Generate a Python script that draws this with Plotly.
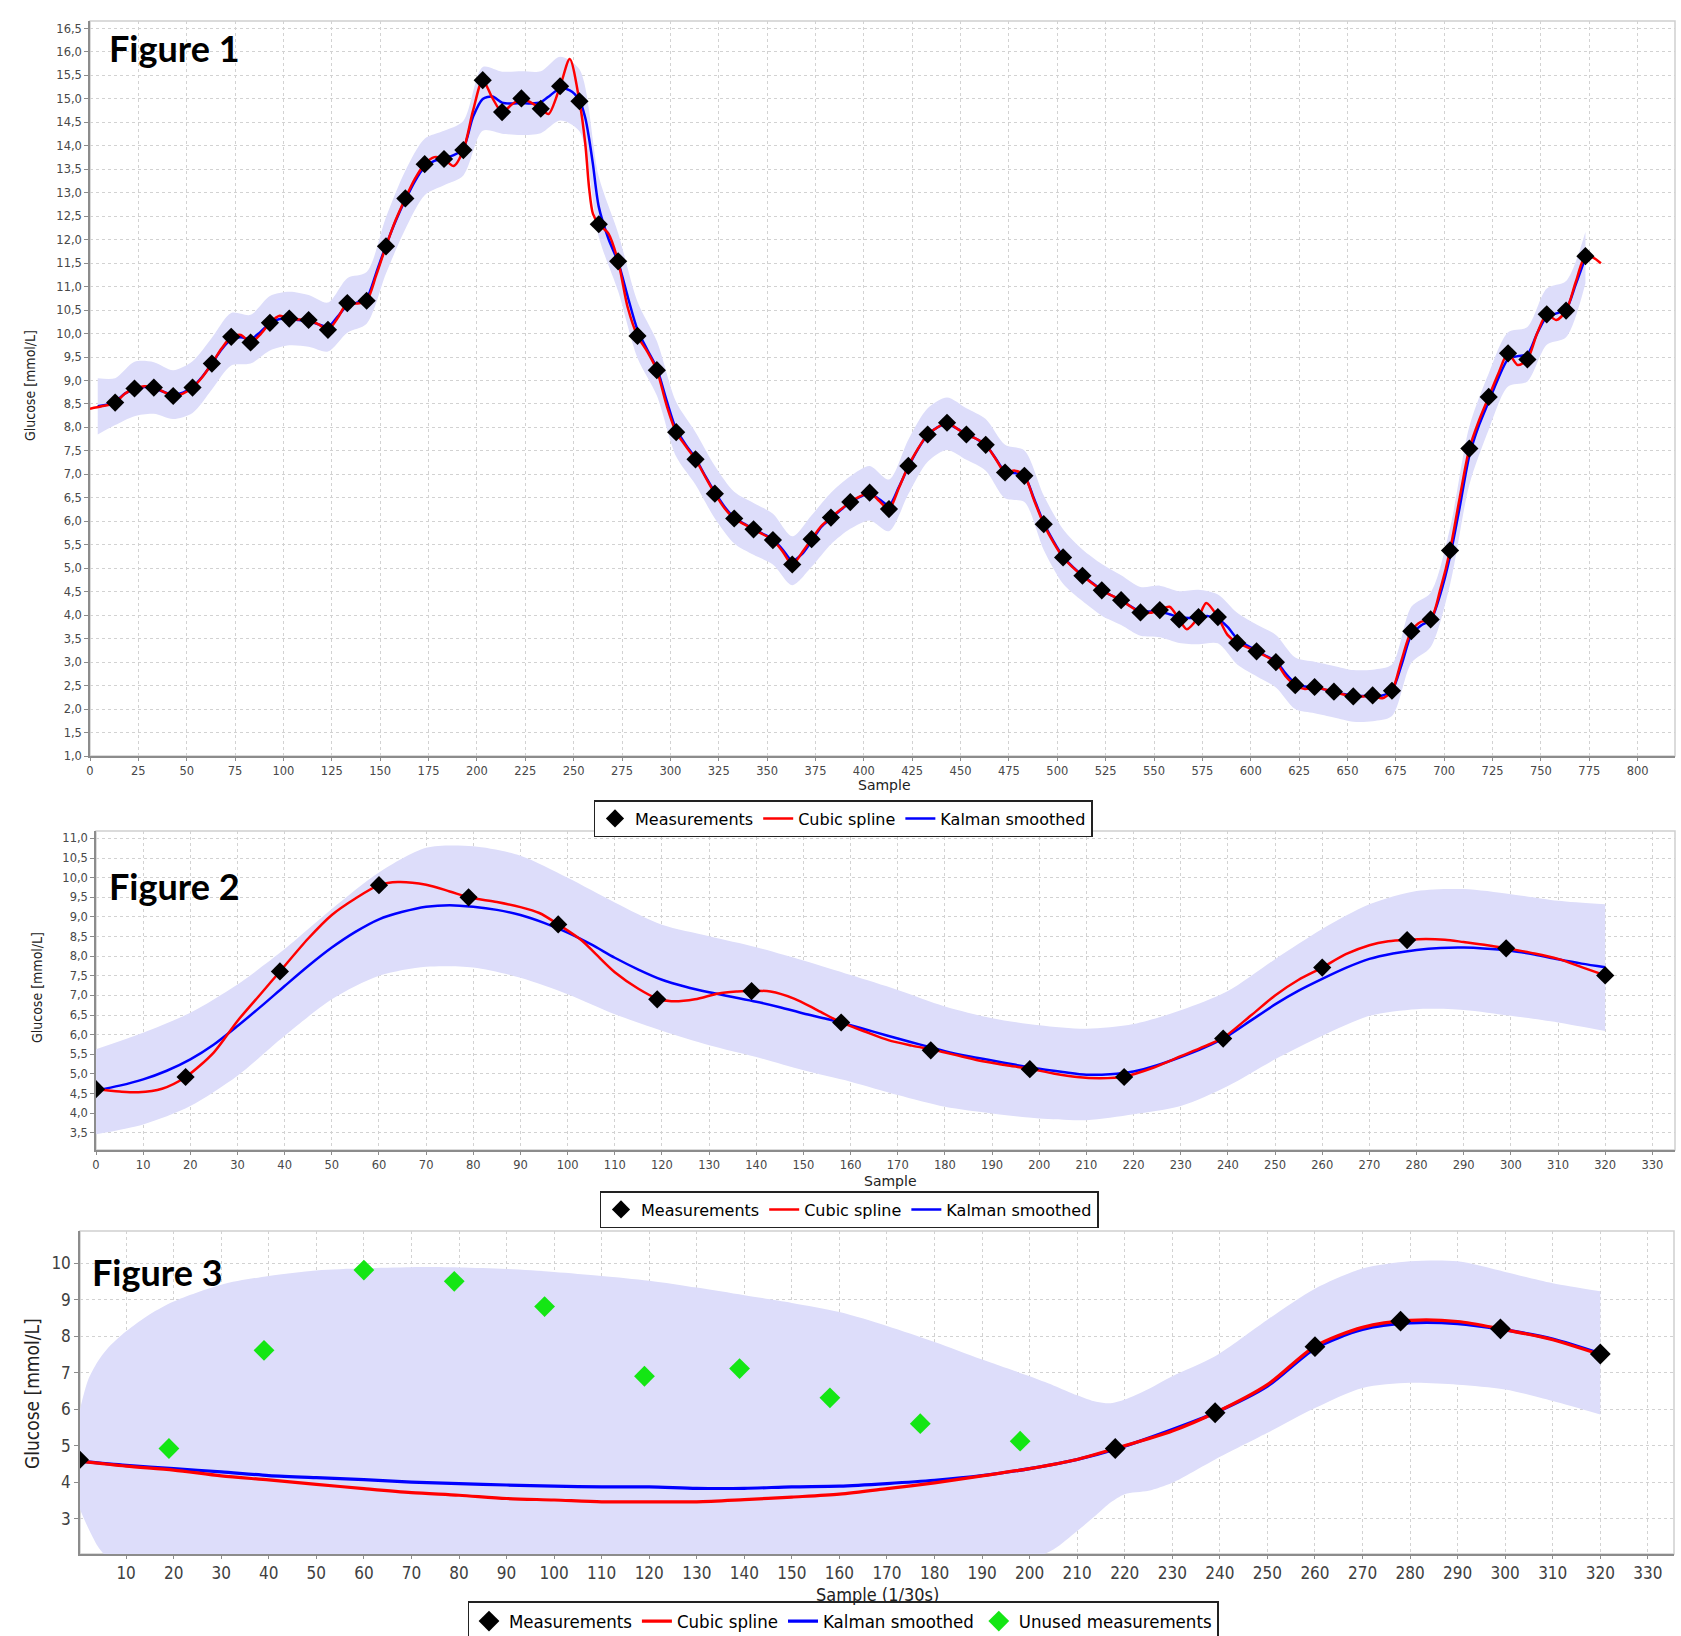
import plotly.graph_objects as go

W, H = 1681, 1636

# ---------------- Figure 1 data ----------------
f1_meas_x = [13, 23, 33, 43, 53, 63, 73, 83, 93, 103, 113, 123, 133, 143, 153, 163, 173, 183, 193, 203,
             213, 223, 233, 243, 253, 263, 273, 283, 293, 303, 313, 323, 333, 343, 353, 363, 373, 383, 393, 403,
             413, 423, 433, 443, 453, 463, 473, 483, 493, 503, 513, 523, 533, 543, 553, 563, 573, 583, 593, 603,
             613, 623, 633, 643, 653, 663, 673, 683, 693, 703, 713, 723, 733, 743, 753, 763, 773]
f1_meas_y = [8.53, 8.83, 8.85, 8.67, 8.85, 9.36, 9.93, 9.81, 10.23, 10.32,
             10.29, 10.08, 10.65, 10.70, 11.86, 12.88, 13.61, 13.72, 13.91, 15.40,
             14.72, 15.01, 14.79, 15.27, 14.95, 12.33, 11.54, 9.95, 9.22, 7.90,
             7.32, 6.59, 6.06, 5.83, 5.60, 5.08, 5.62, 6.08, 6.41, 6.61,
             6.26, 7.18, 7.85, 8.10, 7.85, 7.63, 7.04, 6.97, 5.94, 5.23,
             4.84, 4.53, 4.32, 4.06, 4.11, 3.91, 3.96, 3.96, 3.41, 3.23,
             3.00, 2.51, 2.47, 2.37, 2.27, 2.29, 2.39, 3.66, 3.91, 5.38,
             7.55, 8.65, 9.58, 9.45, 10.41, 10.49, 11.65]

f1_spline_x = [0, 6, 13, 18, 23, 28, 33, 38, 43, 48, 53, 58, 63, 68, 73, 78, 83, 88, 93, 98,
               103, 108, 113, 118, 123, 128, 133, 138, 143, 148, 153, 158, 163, 168, 173, 178, 183, 188, 193, 198,
               203, 208, 213, 218, 223, 228, 233, 237, 243, 248, 253, 256, 258, 260, 263, 268, 273, 278, 283, 288,
               293, 298, 303, 308, 313, 318, 323, 328, 333, 338, 343, 348, 353, 358, 363, 368, 373, 378, 383, 388,
               393, 398, 403, 408, 413, 418, 423, 428, 433, 438, 443, 448, 453, 458, 463, 468, 473, 478, 483, 488,
               493, 498, 503, 508, 513, 518, 523, 528, 533, 538, 543, 548, 553, 558, 563, 567, 573, 577, 583, 588,
               593, 598, 603, 608, 613, 618, 623, 628, 633, 638, 643, 648, 653, 658, 663, 668, 673, 678, 683, 688,
               693, 698, 703, 708, 713, 718, 723, 728, 733, 738, 743, 748, 753, 758, 763, 768, 773, 777, 781]
f1_spline_y = [8.40, 8.45, 8.53, 8.72, 8.83, 8.88, 8.85, 8.76, 8.67, 8.72, 8.85, 9.07, 9.36, 9.68, 9.93, 9.97, 9.81, 9.98, 10.23, 10.38,
               10.32, 10.30, 10.29, 10.20, 10.08, 10.33, 10.65, 10.64, 10.70, 11.25, 11.86, 12.42, 12.88, 13.30, 13.61, 13.76, 13.72, 13.57, 13.91, 14.75,
               15.40, 15.02, 14.72, 14.88, 15.01, 14.92, 14.79, 14.68, 15.27, 15.85, 14.95, 14.05, 13.10, 12.55, 12.33, 12.13, 11.54, 10.55, 9.95, 9.62,
               9.22, 8.48, 7.90, 7.60, 7.32, 6.95, 6.59, 6.28, 6.06, 5.94, 5.83, 5.72, 5.60, 5.36, 5.08, 5.33, 5.62, 5.90, 6.08, 6.25,
               6.41, 6.53, 6.61, 6.43, 6.26, 6.70, 7.18, 7.55, 7.85, 8.00, 8.10, 7.98, 7.85, 7.76, 7.63, 7.34, 7.04, 7.08, 6.97, 6.45,
               5.94, 5.55, 5.23, 5.02, 4.84, 4.68, 4.53, 4.42, 4.32, 4.18, 4.06, 4.05, 4.11, 4.18, 3.91, 3.70, 3.96, 4.26, 3.96, 3.58,
               3.41, 3.32, 3.23, 3.12, 3.00, 2.70, 2.51, 2.43, 2.47, 2.42, 2.37, 2.31, 2.27, 2.27, 2.29, 2.23, 2.39, 3.05, 3.66, 3.86,
               3.91, 4.55, 5.38, 6.50, 7.55, 8.15, 8.65, 9.15, 9.58, 9.33, 9.45, 10.00, 10.41, 10.29, 10.49, 11.10, 11.65, 11.62, 11.50]

f1_kalman_x = [4, 8, 13, 18, 23, 28, 33, 38, 43, 48, 53, 58, 63, 68, 73, 78, 83, 88, 93, 98,
               103, 108, 113, 118, 123, 128, 133, 138, 143, 148, 153, 158, 163, 168, 173, 178, 183, 188, 193, 198,
               203, 208, 213, 218, 223, 228, 233, 238, 243, 248, 253, 256, 258, 260, 263, 268, 273, 278, 283, 288,
               293, 298, 303, 308, 313, 318, 323, 328, 333, 338, 343, 348, 353, 358, 363, 368, 373, 378, 383, 388,
               393, 398, 403, 408, 413, 418, 423, 428, 433, 438, 443, 448, 453, 458, 463, 468, 473, 478, 483, 488,
               493, 498, 503, 508, 513, 518, 523, 528, 533, 538, 543, 548, 553, 558, 563, 568, 573, 578, 583, 588,
               593, 598, 603, 608, 613, 618, 623, 628, 633, 638, 643, 648, 653, 658, 663, 668, 673, 678, 683, 688,
               693, 698, 703, 708, 713, 718, 723, 728, 733, 738, 743, 748, 753, 758, 763, 768, 773]
f1_kalman_y = [8.45, 8.48, 8.55, 8.72, 8.82, 8.86, 8.84, 8.76, 8.70, 8.74, 8.86, 9.08, 9.36, 9.66, 9.88, 9.92, 9.88, 10.03, 10.22, 10.31,
               10.32, 10.29, 10.27, 10.20, 10.14, 10.36, 10.60, 10.66, 10.76, 11.30, 11.88, 12.40, 12.85, 13.25, 13.55, 13.68, 13.74, 13.80, 13.95, 14.62,
               15.00, 15.05, 14.92, 14.90, 14.91, 14.90, 14.93, 15.08, 15.22, 15.18, 14.97, 14.60, 14.15, 13.60, 12.70, 12.02, 11.52, 10.78, 10.08, 9.66,
               9.26, 8.58, 7.96, 7.63, 7.34, 6.97, 6.62, 6.31, 6.08, 5.95, 5.84, 5.73, 5.62, 5.40, 5.16, 5.30, 5.58, 5.88, 6.06, 6.24,
               6.40, 6.52, 6.60, 6.47, 6.34, 6.72, 7.16, 7.54, 7.84, 8.00, 8.08, 7.98, 7.86, 7.76, 7.63, 7.35, 7.06, 7.03, 6.96, 6.48,
               5.97, 5.58, 5.25, 5.03, 4.85, 4.69, 4.54, 4.42, 4.32, 4.19, 4.08, 4.08, 4.08, 4.02, 3.96, 3.94, 3.96, 3.98, 3.92, 3.75,
               3.50, 3.36, 3.25, 3.13, 3.02, 2.76, 2.55, 2.48, 2.46, 2.42, 2.37, 2.32, 2.28, 2.28, 2.29, 2.29, 2.40, 2.95, 3.58, 3.78,
               3.90, 4.45, 5.25, 6.30, 7.40, 8.05, 8.55, 9.05, 9.45, 9.52, 9.56, 10.00, 10.36, 10.43, 10.52, 11.05, 11.62]

# half width of the confidence band, at x = 4 and at every measurement sample
f1_band_x = [4] + f1_meas_x
f1_band_half = [0.60,
                0.50, 0.58, 0.55, 0.52, 0.55, 0.55, 0.56, 0.52, 0.58, 0.57,
                0.55, 0.52, 0.58, 0.55, 0.60, 0.62, 0.60, 0.58, 0.58, 0.68,
                0.66, 0.68, 0.66, 0.68, 0.66, 0.64, 0.62, 0.60, 0.58, 0.58,
                0.56, 0.56, 0.55, 0.55, 0.54, 0.52, 0.55, 0.55, 0.56, 0.58,
                0.55, 0.58, 0.57, 0.56, 0.55, 0.55, 0.57, 0.55, 0.58, 0.58,
                0.55, 0.55, 0.53, 0.52, 0.55, 0.55, 0.58, 0.52, 0.55, 0.55,
                0.56, 0.55, 0.55, 0.55, 0.55, 0.55, 0.55, 0.60, 0.58, 0.60,
                0.62, 0.60, 0.58, 0.58, 0.60, 0.60, 0.55]

# ---------------- Figure 2 data ----------------
f2_meas_x = [0, 19, 39, 60, 79, 98, 119, 139, 158, 177, 198, 218, 239, 260, 278, 299, 320]
f2_meas_y = [4.61, 4.92, 7.61, 9.81, 9.50, 8.81, 6.90, 7.11, 6.31, 5.60, 5.12, 4.92, 5.90, 7.71, 8.41, 8.20, 7.51]

f2_spline_x = [0, 5, 9, 14, 19, 25, 30, 35, 39, 45, 50, 55, 60, 64, 70, 75, 79, 85, 90, 94, 98, 103, 106, 110, 115,
               119, 122, 127, 132, 136, 139, 143, 148, 153, 158, 163, 168, 173, 178, 183, 188, 193, 198, 203, 208,
               213, 218, 224, 230, 235, 239, 245, 250, 255, 260, 265, 270, 274, 278, 282, 286, 290, 295, 299, 305,
               310, 315, 320]
f2_spline_y = [4.61, 4.55, 4.53, 4.62, 4.92, 5.55, 6.35, 7.05, 7.61, 8.45, 9.05, 9.47, 9.81, 9.89, 9.82, 9.65, 9.50, 9.38, 9.25, 9.10, 8.81, 8.40, 8.05, 7.59, 7.17,
               6.92, 6.85, 6.90, 7.05, 7.10, 7.12, 7.10, 6.92, 6.62, 6.31, 6.08, 5.86, 5.72, 5.60, 5.46, 5.32, 5.22, 5.13, 5.01, 4.92,
               4.89, 4.93, 5.15, 5.45, 5.70, 5.92, 6.50, 7.00, 7.40, 7.71, 8.05, 8.28, 8.38, 8.42, 8.44, 8.42, 8.36, 8.28, 8.20, 8.07,
               7.93, 7.72, 7.51]

f2_kalman_x = [0, 5, 10, 15, 20, 25, 30, 35, 40, 45, 50, 55, 60, 65, 70, 75, 80, 85, 90, 95, 100, 105, 110, 115, 120,
               125, 130, 135, 140, 145, 150, 155, 160, 165, 170, 175, 180, 185, 190, 195, 200, 205, 210, 215, 220,
               225, 230, 235, 240, 245, 250, 255, 260, 265, 270, 275, 280, 285, 290, 295, 300, 305, 310, 315, 320]
f2_kalman_y = [4.58, 4.70, 4.86, 5.08, 5.37, 5.75, 6.22, 6.72, 7.24, 7.75, 8.22, 8.62, 8.94, 9.13, 9.26, 9.30, 9.26, 9.18, 9.05, 8.85, 8.60, 8.30, 7.96, 7.66, 7.40,
               7.22, 7.08, 6.96, 6.84, 6.70, 6.54, 6.40, 6.24, 6.07, 5.90, 5.74, 5.58, 5.45, 5.34, 5.23, 5.13, 5.05, 4.98, 4.99, 5.06,
               5.22, 5.43, 5.67, 5.97, 6.37, 6.77, 7.12, 7.42, 7.70, 7.93, 8.07, 8.16, 8.21, 8.22, 8.19, 8.14, 8.04, 7.92, 7.81, 7.72]

f2_band_x = [0, 10, 20, 30, 40, 50, 60, 70, 80, 90, 100, 110, 120, 130, 140, 150, 160, 170, 180, 190,
             200, 210, 220, 230, 240, 250, 260, 270, 280, 290, 300, 310, 320]
f2_band_hi = [5.63, 6.05, 6.56, 7.28, 8.18, 9.20, 10.13, 10.76, 10.80, 10.56, 10.00, 9.37, 8.80, 8.51, 8.23, 7.89, 7.52, 7.14, 6.72, 6.42,
              6.24, 6.15, 6.27, 6.62, 7.11, 7.92, 8.69, 9.32, 9.66, 9.71, 9.58, 9.41, 9.32]
f2_band_lo = [3.46, 3.71, 4.18, 4.95, 5.97, 6.90, 7.50, 7.73, 7.71, 7.45, 7.03, 6.52, 6.10, 5.73, 5.43, 5.09, 4.80, 4.46, 4.16, 3.99,
              3.86, 3.82, 3.97, 4.18, 4.69, 5.37, 5.97, 6.48, 6.65, 6.63, 6.48, 6.31, 6.09]

# ---------------- Figure 3 data ----------------
f3_meas_x = [0, 218, 239, 260, 278, 299, 320]
f3_meas_y = [4.61, 4.92, 5.90, 7.71, 8.41, 8.20, 7.51]
f3_unused_x = [19, 39, 60, 79, 98, 119, 139, 158, 177, 198]
f3_unused_y = [4.92, 7.61, 9.81, 9.50, 8.81, 6.90, 7.11, 6.31, 5.60, 5.12]

f3_line_x = [0, 10, 20, 30, 40, 50, 60, 70, 80, 90, 100, 110, 120, 130, 140, 150, 160, 170, 180, 190, 200, 210,
             218, 230, 239, 250, 260, 270, 280, 290, 299, 310, 320]
f3_spline_y = [4.58, 4.44, 4.33, 4.17, 4.06, 3.94, 3.82, 3.71, 3.64, 3.55, 3.51, 3.46, 3.46, 3.46, 3.52, 3.59, 3.67, 3.82, 3.98, 4.17, 4.37, 4.62,
               4.92, 5.40, 5.90, 6.67, 7.72, 8.24, 8.43, 8.40, 8.20, 7.90, 7.49]
f3_kalman_y = [4.58, 4.46, 4.37, 4.28, 4.18, 4.12, 4.07, 4.00, 3.96, 3.92, 3.89, 3.87, 3.87, 3.83, 3.83, 3.87, 3.89, 3.96, 4.05, 4.18, 4.37, 4.62,
               4.90, 5.44, 5.90, 6.63, 7.66, 8.18, 8.36, 8.34, 8.19, 7.92, 7.52]

f3_band_x = [0.3, 2, 4, 6, 10, 15, 20, 30, 40, 50, 60, 70, 80, 90, 100, 110, 120, 130, 140, 150, 160, 170, 180, 190,
             200, 205, 210, 214, 217, 220, 225, 230, 239, 250, 260, 270, 280, 290, 300, 310, 320]
f3_band_hi = [6.00, 6.80, 7.30, 7.65, 8.13, 8.60, 8.95, 9.41, 9.65, 9.80, 9.86, 9.89, 9.88, 9.84, 9.76, 9.65, 9.52, 9.33, 9.12, 8.91, 8.66, 8.28, 7.84, 7.36,
              6.90, 6.65, 6.38, 6.20, 6.16, 6.26, 6.55, 6.90, 7.45, 8.45, 9.30, 9.85, 10.05, 10.05, 9.76, 9.45, 9.23]
f3_band_lo = [3.25, 2.75, 2.25, 1.90, 0.80, 0.20, -0.20, -0.85, -1.30, -1.55, -1.72, -1.88, -1.95, -2.00, -1.98, -1.90, -1.78, -1.65, -1.45, -1.17, -0.85, -0.36, 0.26, 1.00,
              1.84, 2.15, 2.66, 3.10, 3.44, 3.67, 3.76, 3.98, 4.62, 5.35, 6.03, 6.58, 6.72, 6.67, 6.54, 6.22, 5.85]

# ---------------- styling ----------------
BAND = 'rgb(221,221,250)'
RED = '#ff0000'
BLUE = '#0000ff'
GREEN = '#14e614'
GRID = '#d2d2d2'
AXIS = '#8c8c8c'
WIDE = 'DejaVu Sans, Verdana, sans-serif'
NARROW = 'Liberation Sans Narrow, DejaVu Sans Condensed, Arial Narrow, sans-serif'


def fx(px):
    return px / W


def fy(py):
    return 1 - py / H


# plot areas in pixels: (left, right, top, bottom)
P1 = (90, 1675, 21, 756)
P2 = (96, 1675, 831, 1150)
P3 = (80, 1674, 1231, 1554)

fig = go.Figure()


def add_band(x, lo, hi, xa, ya):
    fig.add_trace(go.Scatter(x=x, y=lo, mode='lines', line=dict(width=0, shape='spline', smoothing=0.8),
                             hoverinfo='skip', showlegend=False, xaxis=xa, yaxis=ya))
    fig.add_trace(go.Scatter(x=x, y=hi, mode='lines', line=dict(width=0, shape='spline', smoothing=0.8),
                             fill='tonexty', fillcolor=BAND, hoverinfo='skip', showlegend=False,
                             xaxis=xa, yaxis=ya))


def add_lines(sx, sy, kx, ky, xa, ya, leg, lw):
    fig.add_trace(go.Scatter(x=kx, y=ky, mode='lines', name='Kalman smoothed',
                             line=dict(color=BLUE, width=lw, shape='spline', smoothing=0.8),
                             xaxis=xa, yaxis=ya, legend=leg, legendrank=3))
    fig.add_trace(go.Scatter(x=sx, y=sy, mode='lines', name='Cubic spline',
                             line=dict(color=RED, width=lw, shape='spline', smoothing=0.8),
                             xaxis=xa, yaxis=ya, legend=leg, legendrank=2))


# ---- Figure 1 ----
kmap = dict(zip(f1_kalman_x, f1_kalman_y))
f1_band_lo = [kmap[x] - h for x, h in zip(f1_band_x, f1_band_half)]
f1_band_hi = [kmap[x] + h for x, h in zip(f1_band_x, f1_band_half)]
add_band(f1_band_x, f1_band_lo, f1_band_hi, 'x', 'y')
add_lines(f1_spline_x, f1_spline_y, f1_kalman_x, f1_kalman_y, 'x', 'y', 'legend', 2.5)
fig.add_trace(go.Scatter(x=f1_meas_x, y=f1_meas_y, mode='markers', name='Measurements',
                         marker=dict(symbol='diamond', size=14, color='black'),
                         xaxis='x', yaxis='y', legend='legend', legendrank=1))

# ---- Figure 2 ----
add_band(f2_band_x, f2_band_lo, f2_band_hi, 'x2', 'y2')
add_lines(f2_spline_x, f2_spline_y, f2_kalman_x, f2_kalman_y, 'x2', 'y2', 'legend2', 2.5)
fig.add_trace(go.Scatter(x=f2_meas_x, y=f2_meas_y, mode='markers', name='Measurements',
                         marker=dict(symbol='diamond', size=14, color='black'),
                         xaxis='x2', yaxis='y2', legend='legend2', legendrank=1))

# ---- Figure 3 ----
add_band(f3_band_x, f3_band_lo, f3_band_hi, 'x3', 'y3')
add_lines(f3_line_x, f3_spline_y, f3_line_x, f3_kalman_y, 'x3', 'y3', 'legend3', 3.2)
fig.add_trace(go.Scatter(x=f3_meas_x, y=f3_meas_y, mode='markers', name='Measurements',
                         marker=dict(symbol='diamond', size=16, color='black'),
                         xaxis='x3', yaxis='y3', legend='legend3', legendrank=1))
fig.add_trace(go.Scatter(x=f3_unused_x, y=f3_unused_y, mode='markers', name='Unused measurements',
                         marker=dict(symbol='diamond', size=16, color=GREEN),
                         xaxis='x3', yaxis='y3', legend='legend3', legendrank=4))


def xaxis(P, rng, tick0, dtick, anchor, font):
    return dict(domain=[fx(P[0]), fx(P[1])], range=rng, anchor=anchor, tick0=tick0, dtick=dtick,
                tickmode='linear', showgrid=True, gridcolor=GRID, griddash='3px,3px', gridwidth=1,
                zeroline=False, showline=True, linecolor=AXIS, linewidth=1.5, ticks='outside',
                ticklen=3, tickcolor=AXIS, tickfont=font, fixedrange=True)


def yaxis(P, rng, tick0, dtick, anchor, font, fmt):
    return dict(domain=[fy(P[3]), fy(P[2])], range=rng, anchor=anchor, tick0=tick0, dtick=dtick,
                tickmode='linear', tickformat=fmt, showgrid=True, gridcolor=GRID, griddash='3px,3px',
                gridwidth=1, zeroline=False, showline=True, linecolor=AXIS, linewidth=1.5,
                ticks='outside', ticklen=4, tickcolor=AXIS, tickfont=font, fixedrange=True)


small = dict(family=WIDE, size=11.5, color='#484848')
big = dict(family=NARROW, size=17, color='#404040')

legend_small = dict(orientation='h', xanchor='center', yanchor='top', bgcolor='white',
                    bordercolor='#222222', borderwidth=1.5, font=dict(family=WIDE, size=16, color='black'),
                    itemwidth=30, tracegroupgap=0, traceorder='normal')
legend_big = dict(orientation='h', xanchor='center', yanchor='top', bgcolor='white',
                  bordercolor='#222222', borderwidth=1.5, font=dict(family=NARROW, size=18.5, color='black'),
                  itemwidth=30, tracegroupgap=0, traceorder='normal')

fig.update_layout(
    width=W, height=H, margin=dict(l=0, r=0, t=0, b=0, autoexpand=False),
    paper_bgcolor='white', plot_bgcolor='white', separators=', ',
    showlegend=True,
    xaxis=xaxis(P1, [0, 819.3], 0, 25, 'y', small),
    yaxis=yaxis(P1, [1.0, 16.66], 1.0, 0.5, 'x', small, '.1f'),
    xaxis2=xaxis(P2, [0, 334.8], 0, 10, 'y2', small),
    yaxis2=yaxis(P2, [3.06, 11.19], 3.5, 0.5, 'x2', small, '.1f'),
    xaxis3=xaxis(P3, [0.3, 335.5], 0, 10, 'y3', big),
    yaxis3=yaxis(P3, [2.03, 10.88], 0, 1, 'x3', big, 'd'),
    legend=dict(legend_small, x=fx(843), y=fy(800)),
    legend2=dict(legend_small, x=fx(849), y=fy(1191)),
    legend3=dict(legend_big, x=fx(843), y=fy(1601)),
)

# light frame around each plot area
for xr, yr in (('x', 'y'), ('x2', 'y2'), ('x3', 'y3')):
    fig.add_shape(type='rect', xref=xr + ' domain', yref=yr + ' domain', x0=0, x1=1, y0=0, y1=1,
                  line=dict(color='#cfcfcf', width=1.5), layer='below')

ann = []
# panel labels
for txt, px, py in (('Figure 1', 107, 48), ('Figure 2', 107, 886), ('Figure 3', 90, 1272)):
    ann.append(dict(text='<b>' + txt + '</b>', x=fx(px), y=fy(py), xref='paper', yref='paper',
                    xanchor='left', yanchor='middle', showarrow=False,
                    font=dict(family='Lato, Open Sans, sans-serif', size=36, color='black')))
# axis titles
for txt, px, py, fam, size, ang in (
        ('Sample', 884, 785, WIDE, 14, 0),
        ('Sample', 890, 1181, WIDE, 14, 0),
        ('Sample (1/30s)', 878, 1594, NARROW, 18, 0),
        ('Glucose [mmol/L]', 30, 386, NARROW, 14, -90),
        ('Glucose [mmol/L]', 37, 988, NARROW, 14, -90),
        ('Glucose [mmol/L]', 32, 1394, NARROW, 19, -90)):
    ann.append(dict(text=txt, x=fx(px), y=fy(py), xref='paper', yref='paper', showarrow=False,
                    xanchor='center', yanchor='middle', textangle=ang,
                    font=dict(family=fam, size=size, color='#222')))
fig.update_layout(annotations=ann)

fig.write_html("out.html", config={'displayModeBar': False},
               post_script="document.body.style.margin='0';")
